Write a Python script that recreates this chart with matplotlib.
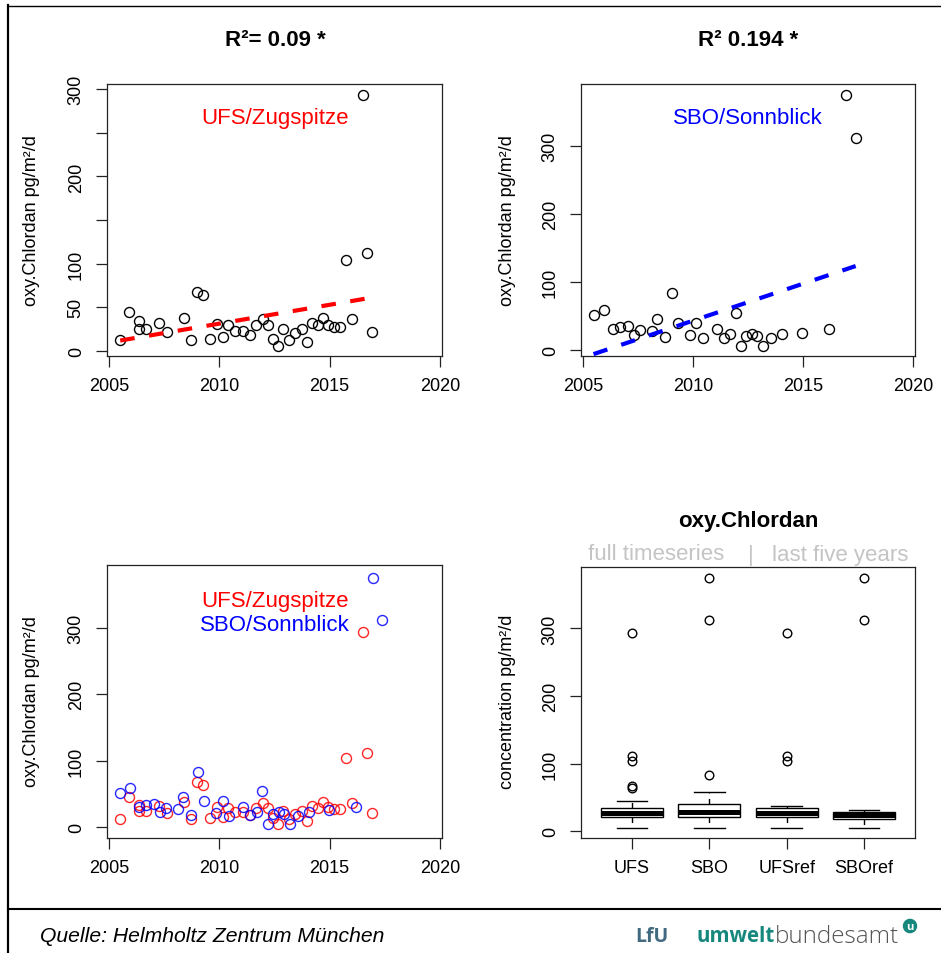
import numpy as np
import matplotlib
matplotlib.use("Agg")
import matplotlib.pyplot as plt
from matplotlib.lines import Line2D
from matplotlib.patches import Circle

plt.rcParams['font.family'] = ['Liberation Sans', 'DejaVu Sans']

W, H = 941, 954

# ---------------- data ----------------
ufs_year = [2005.50, 2005.91, 2006.33, 2006.33, 2006.68, 2007.28, 2007.61, 2008.38, 2008.69,
            2008.97, 2009.27, 2009.59, 2009.88, 2010.15, 2010.41, 2010.71, 2011.06, 2011.39,
            2011.66, 2011.96, 2012.22, 2012.42, 2012.64, 2012.90, 2013.17, 2013.43, 2013.75,
            2013.99, 2014.18, 2014.49, 2014.71, 2014.94, 2015.21, 2015.47, 2015.73, 2016.03,
            2016.50, 2016.68, 2016.92]
ufs_val = [12.2, 45, 34, 25, 25, 32, 22, 38, 12.6,
           67.6, 64, 14, 31, 16, 29, 23, 23, 18,
           29, 36, 29, 14, 5, 25, 12.6, 20, 25,
           9.5, 32, 29, 38, 30, 27, 27, 104, 37,
           293, 112, 22]

sbo_year = [2005.47, 2005.94, 2006.34, 2006.68, 2007.02, 2007.31, 2007.58, 2008.11, 2008.37,
            2008.70, 2009.02, 2009.32, 2009.85, 2010.15, 2010.45, 2011.09, 2011.40, 2011.69,
            2011.95, 2012.19, 2012.42, 2012.69, 2012.93, 2013.20, 2013.55, 2014.05, 2014.97,
            2016.19, 2016.95, 2017.40]
sbo_val = [51.4, 58.7, 30.3, 33.3, 35.2, 22.5, 28.9, 27.4, 45,
           18.6, 83.2, 39.2, 22, 39.6, 17.1, 30.8, 18.1, 23.5,
           54.8, 5.5, 20, 23.5, 20.6, 5.5, 17.1, 23.5, 25.5,
           30.8, 375, 312]

ref_start = 2012.0  # "last five years"

x_ticks = [2005, 2010, 2015, 2020]
x_tick_labels = ['2005', '2010', '2015', '2020']
ufs_y_ticks = [0, 50, 100, 150, 200, 250, 300]
ufs_y_tick_labels = ['0', '50', '100', '', '200', '', '300']
y_ticks = [0, 100, 200, 300]
y_tick_labels = ['0', '100', '200', '300']
box_labels = ['UFS', 'SBO', 'UFSref', 'SBOref']

title_ufs = 'R²= 0.09 *'
title_sbo = 'R² 0.194 *'
title_box = 'oxy.Chlordan'
ylab = 'oxy.Chlordan pg/m²/d'
ylab_box = 'concentration pg/m²/d'
name_ufs = 'UFS/Zugspitze'
name_sbo = 'SBO/Sonnblick'

# ---------------- figure ----------------
fig = plt.figure(figsize=(W / 100, H / 100), dpi=100)


def px_axes(l, t, r, b):
    return fig.add_axes([l / W, 1 - b / H, (r - l) / W, (b - t) / H])


def fx(x):
    return x / W


def fy(y):
    return 1 - y / H


def style(ax, yt, ytl):
    for s in ax.spines.values():
        s.set_linewidth(0.9)
        s.set_color('#222222')
    ax.tick_params(direction='out', length=8, width=0.9, labelsize=13, color='#222222')
    ax.tick_params(axis='x', pad=7)
    ax.tick_params(axis='y', pad=8)
    ax.set_yticks(yt)
    ax.set_yticklabels(ytl, rotation=90, va='center')


def scatter_panel(ax, xs, ys, color_pts, ylim):
    ax.plot(xs, ys, 'o', mfc='none', mec=color_pts, ms=7.2, mew=1.0, ls='none')
    ax.set_xlim(2004.9, 2020.1)
    ax.set_ylim(*ylim)
    ax.set_xticks(x_ticks)
    ax.set_xticklabels(x_tick_labels)


def trend(ax, xs, ys, color):
    xs = np.asarray(xs)
    ys = np.asarray(ys)
    coef = np.polyfit(xs, ys, 1)
    order = np.argsort(xs)
    ax.plot(xs[order], np.polyval(coef, xs[order]), color=color, lw=3,
            ls=(0, (3.5, 3.5)), solid_capstyle='butt', dash_capstyle='butt')


# top-left
ax1 = px_axes(107, 85, 442, 357)
scatter_panel(ax1, ufs_year, ufs_val, 'black', (-6, 306))
trend(ax1, ufs_year, ufs_val, 'red')
style(ax1, ufs_y_ticks, ufs_y_tick_labels)
ax1.text(2012.5, 267, name_ufs, color='red', fontsize=16, ha='center', va='center')
fig.text(fx(275), fy(40), title_ufs, fontsize=16, fontweight='bold', ha='center', va='center')
fig.text(fx(32), fy(221), ylab, fontsize=13, rotation=90, ha='center', va='center')

# top-right
ax2 = px_axes(581, 85, 915, 357)
scatter_panel(ax2, sbo_year, sbo_val, 'black', (-9, 391))
trend(ax2, sbo_year, sbo_val, 'blue')
style(ax2, y_ticks, y_tick_labels)
ax2.text(2012.5, 341, name_sbo, color='blue', fontsize=16, ha='center', va='center')
fig.text(fx(748), fy(40), title_sbo, fontsize=16, fontweight='bold', ha='center', va='center')
fig.text(fx(507), fy(221), ylab, fontsize=13, rotation=90, ha='center', va='center')

# bottom-left
ax3 = px_axes(107, 566, 442, 839)
ax3.plot(ufs_year, ufs_val, 'o', mfc='none', mec='red', ms=7.2, mew=1.0, ls='none', alpha=0.85)
ax3.plot(sbo_year, sbo_val, 'o', mfc='none', mec='blue', ms=7.2, mew=1.0, ls='none', alpha=0.85)
ax3.set_xlim(2004.9, 2020.1)
ax3.set_ylim(-16, 394)
ax3.set_xticks(x_ticks)
ax3.set_xticklabels(x_tick_labels)
style(ax3, y_ticks, y_tick_labels)
ax3.text(2012.5, 340, name_ufs, color='red', fontsize=16, ha='center', va='center')
ax3.text(2012.5, 305, name_sbo, color='blue', fontsize=16, ha='center', va='center')
fig.text(fx(32), fy(702), ylab, fontsize=13, rotation=90, ha='center', va='center')


# bottom-right boxplot
def tukey_stats(vals, label):
    v = np.sort(np.asarray(vals, dtype=float))
    n = len(v)
    n4 = np.floor((n + 3) / 2) / 2
    d = np.array([1, n4, (n + 1) / 2, n + 1 - n4, n]) - 1
    f = 0.5 * (v[np.floor(d).astype(int)] + v[np.ceil(d).astype(int)])
    q1, med, q3 = f[1], f[2], f[3]
    iqr = q3 - q1
    inside = v[(v >= q1 - 1.5 * iqr) & (v <= q3 + 1.5 * iqr)]
    fl = v[(v < q1 - 1.5 * iqr) | (v > q3 + 1.5 * iqr)]
    return dict(med=med, q1=q1, q3=q3, whislo=inside.min(), whishi=inside.max(),
                fliers=fl, label=label)


uy = np.asarray(ufs_year)
uv = np.asarray(ufs_val)
sy = np.asarray(sbo_year)
sv = np.asarray(sbo_val)
groups = [uv, sv, uv[uy >= ref_start], sv[sy >= ref_start]]
stats = [tukey_stats(g, lab) for g, lab in zip(groups, box_labels)]

ax4 = px_axes(581, 568, 915, 839)
ax4.bxp(stats, positions=[1, 2, 3, 4], widths=0.8, patch_artist=True, capwidths=0.4,
        boxprops=dict(facecolor='white', edgecolor='black', lw=1.0),
        medianprops=dict(color='black', lw=3.6, solid_capstyle='butt'),
        whiskerprops=dict(color='black', lw=1.0, ls=(0, (4, 4))),
        capprops=dict(color='black', lw=1.0),
        flierprops=dict(marker='o', mfc='none', mec='black', ms=6.2, mew=1.0),
        manage_ticks=False)
ax4.set_xlim(0.34, 4.66)
ax4.set_ylim(-10, 391)
ax4.set_xticks([1, 2, 3, 4])
ax4.set_xticklabels(box_labels)
style(ax4, y_ticks, y_tick_labels)
fig.text(fx(748), fy(521), title_box, fontsize=16, fontweight='bold', ha='center', va='center')
fig.text(fx(656), fy(555), 'full timeseries', fontsize=16, color='#c4c4c4', ha='center', va='center')
fig.text(fx(751), fy(556), '|', fontsize=16, color='#c4c4c4', ha='center', va='center')
fig.text(fx(840), fy(555), 'last five years', fontsize=16, color='#c4c4c4', ha='center', va='center')
fig.text(fx(507), fy(702), ylab_box, fontsize=13, rotation=90, ha='center', va='center')

# ---------------- frame & footer ----------------
fig.add_artist(Line2D([fx(8), fx(8)], [0, fy(6)], color='black', lw=1.6, transform=fig.transFigure))
fig.add_artist(Line2D([fx(8), 1], [fy(6.5), fy(6.5)], color='black', lw=1.0, transform=fig.transFigure))
fig.add_artist(Line2D([fx(8), 1], [fy(909.5), fy(909.5)], color='black', lw=1.5, transform=fig.transFigure))

fig.text(fx(40), fy(937), 'Quelle: Helmholtz Zentrum München', fontsize=15.2, style='italic',
         ha='left', va='center')

fig.canvas.draw()
r = fig.canvas.get_renderer()

t_lfu = fig.text(fx(635), fy(937), 'LfU', fontsize=14, fontweight='bold', color='#41697f',
                 family=['Open Sans', 'DejaVu Sans'], ha='left', va='center')
t_um = fig.text(fx(697), fy(937), 'umwelt', fontsize=14.8, fontweight='bold', color='#16877d',
                family=['Open Sans', 'DejaVu Sans'], ha='left', va='center')
fig.canvas.draw()
bb = t_um.get_window_extent(r)
t_bu = fig.text(bb.x1 / W, fy(937), 'bundesamt', fontsize=17.5, color='#555555',
                family=['Open Sans', 'DejaVu Sans'], ha='left', va='center', fontweight='light')
fig.add_artist(Circle((fx(910), fy(927)), 6.5 / W, color='#16877d', transform=fig.transFigure))
fig.text(fx(910), fy(927.5), 'u', fontsize=8, fontweight='bold', color='white',
         ha='center', va='center', family=['Open Sans', 'DejaVu Sans'])

fig.savefig('out.png', dpi=100)
